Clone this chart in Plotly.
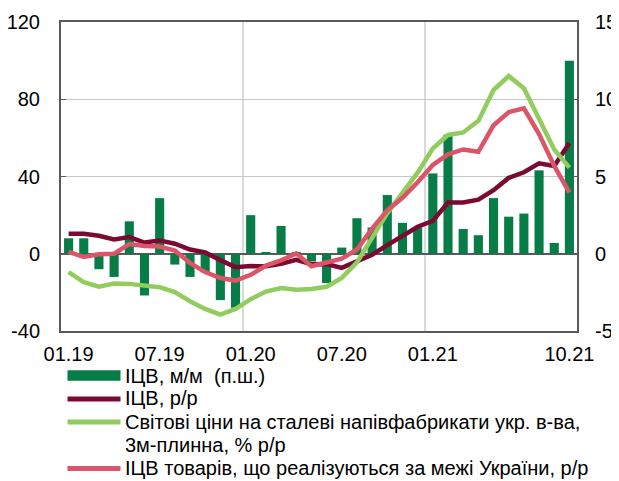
import plotly.graph_objects as go

# ---- data -------------------------------------------------------------
months = [f"{m:02d}.{y}" for y in (19, 20, 21) for m in range(1, 13)][:34]
tick_labels = ["01.19", "07.19", "01.20", "07.20", "01.21", "10.21"]
left_ticks = [-40, 0, 40, 80, 120]
left_ticktext = ["-40", "0", "40", "80", "120"]
right_ticks = [-5, 0, 5, 10, 15]
right_ticktext = ["-5", "0", "5", "10", "15"]

# ІЦВ, м/м (права шкала)
ppi_mm = [1.0, 1.0, -1.0, -1.5, 2.1, -2.7, 3.6, -0.7, -1.5, -1.2, -3.0, -3.5,
          2.5, 0.1, 1.8, 0.1, -0.5, -1.9, 0.4, 2.3, 1.7, 3.8, 2.0, 1.7,
          5.2, 7.7, 1.6, 1.2, 3.6, 2.4, 2.6, 5.4, 0.7, 12.5]
# ІЦВ, р/р
ppi_yy = [10.3, 10.3, 9.3, 7.4, 8.6, 5.8, 6.9, 5.2, 2.2, 0.7, -3.3, -7.0,
          -6.4, -6.5, -5.2, -3.2, -5.4, -5.3, -7.3, -4.0, -0.5, 4.5, 9.5, 14.0,
          17.0, 26.5, 26.5, 28.0, 32.9, 39.3, 42.2, 46.8, 45.4, 57.3]
# Світові ціни на сталеві напівфабрикати
steel = [-9.5, -14.7, -17.0, -15.4, -15.6, -16.2, -17.3, -19.9, -24.6, -28.6, -31.5, -28.6,
         -23.5, -19.6, -17.8, -18.7, -18.2, -17.1, -12.5, -4.5, 8.5, 21.0, 31.5, 42.0,
         54.5, 61.5, 62.8, 68.8, 84.8, 92.0, 85.7, 70.0, 54.0, 44.6]
# ІЦВ товарів, що реалізуються за межі України
export_ppi = [1.0, -1.7, -0.3, 0.0, 5.0, 4.0, 3.7, 1.7, -4.7, -9.5, -12.6, -13.9,
              -10.9, -6.1, -3.5, 0.2, -6.5, -4.5, -2.6, 2.2, 13.0, 22.5, 29.0, 37.0,
              46.0, 51.5, 54.0, 52.8, 66.5, 73.3, 75.3, 62.0, 45.5, 31.7]

names = ["ІЦВ, м/м  (п.ш.)", "ІЦВ, р/р",
         "Світові ціни на сталеві напівфабрикати укр. в-ва,",
         "ІЦВ товарів, що реалізуються за межі України, р/р"]
name3_line2 = "3м-плинна, % р/р"
colors = ["#077C46", "#7A0A32", "#92CC5E", "#DC5468"]

x = list(range(len(months)))
tickvals = [months.index(t) for t in tick_labels]
FONT = "Liberation Sans, Arial, sans-serif"
AX = "#595959"

# the page adds an 8px body margin, so the figure is drawn 8px smaller
OFF = 8
W, H = 619 - OFF, 481 - OFF
ML, MR, MT, MB = 61 - OFF, 42, 22 - OFF, 150
PW, PH = W - ML - MR, H - MT - MB


def px(xp):  # page pixel -> paper x
    return (xp - OFF - ML) / PW


def py(yp):  # page pixel -> paper y
    return (H - MB - (yp - OFF)) / PH


fig = go.Figure()
fig.add_trace(go.Bar(x=x, y=ppi_mm, marker=dict(color=colors[0], line=dict(width=0)),
                     name=names[0], showlegend=False, yaxis="y"))
for vals, nm, col in zip([ppi_yy, steel, export_ppi], names[1:], colors[1:]):
    fig.add_trace(go.Scatter(x=x, y=vals, mode="lines", name=nm, yaxis="y2", showlegend=False,
                             line=dict(color=col, width=4.5)))

# ---- legend (drawn below the plot) --------------------------------------
rows = [375.5, 398.5, 421.5, 468]
row3b = 444.8
shapes = []
annotations = []
sx0, sx1, tx = 67.5, 120.5, 123
shapes.append(dict(type="rect", xref="paper", yref="paper", x0=px(sx0), x1=px(sx1),
                   y0=py(rows[0] - 5.3), y1=py(rows[0] + 5.3),
                   fillcolor=colors[0], line=dict(width=0)))
for r, col in zip(rows[1:], colors[1:]):
    shapes.append(dict(type="line", xref="paper", yref="paper", x0=px(sx0), x1=px(sx1),
                       y0=py(r + 0.5), y1=py(r + 0.5), line=dict(color=col, width=4.8)))
for r, nm in zip(rows, names):
    annotations.append(dict(xref="paper", yref="paper", x=px(tx), y=py(r), text=nm,
                            showarrow=False, xanchor="left", yanchor="middle",
                            font=dict(family=FONT, size=20, color="black")))
annotations.append(dict(xref="paper", yref="paper", x=px(tx), y=py(row3b), text=name3_line2,
                        showarrow=False, xanchor="left", yanchor="middle",
                        font=dict(family=FONT, size=20, color="black")))

fig.update_layout(
    width=W, height=H,
    margin=dict(l=ML, r=MR, t=MT, b=MB, autoexpand=False),
    plot_bgcolor="white", paper_bgcolor="white",
    font=dict(family=FONT, size=20, color="black"),
    bargap=0.4,
    showlegend=False,
    shapes=shapes, annotations=annotations,
    xaxis=dict(range=[-0.5, 33.5], tickmode="array", tickvals=tickvals, ticktext=tick_labels,
               showgrid=False, showline=True, linecolor=AX, linewidth=2, mirror=True,
               ticks="", ticklabelstandoff=4, zeroline=False,
               minor=dict(tickmode="linear", tick0=-0.5, dtick=12, showgrid=True,
                          gridcolor="#DADADA", gridwidth=1.5, ticks="")),
    yaxis=dict(side="right", range=[-5, 15], tickmode="array", tickvals=right_ticks,
               ticktext=right_ticktext,
               showgrid=True, gridcolor="#C3C8C8", gridwidth=1,
               zeroline=True, zerolinecolor=AX, zerolinewidth=2,
               showline=True, linecolor=AX, linewidth=2,
               ticks="inside", ticklen=5, tickcolor=AX, ticklabelstandoff=12),
    yaxis2=dict(side="left", overlaying="y", range=[-40, 120], tickmode="array",
                tickvals=left_ticks, ticktext=left_ticktext,
                showgrid=False, zeroline=False,
                showline=True, linecolor=AX, linewidth=2,
                ticks="inside", ticklen=5, tickcolor=AX, ticklabelstandoff=15),
)

fig.write_html("out.html")
